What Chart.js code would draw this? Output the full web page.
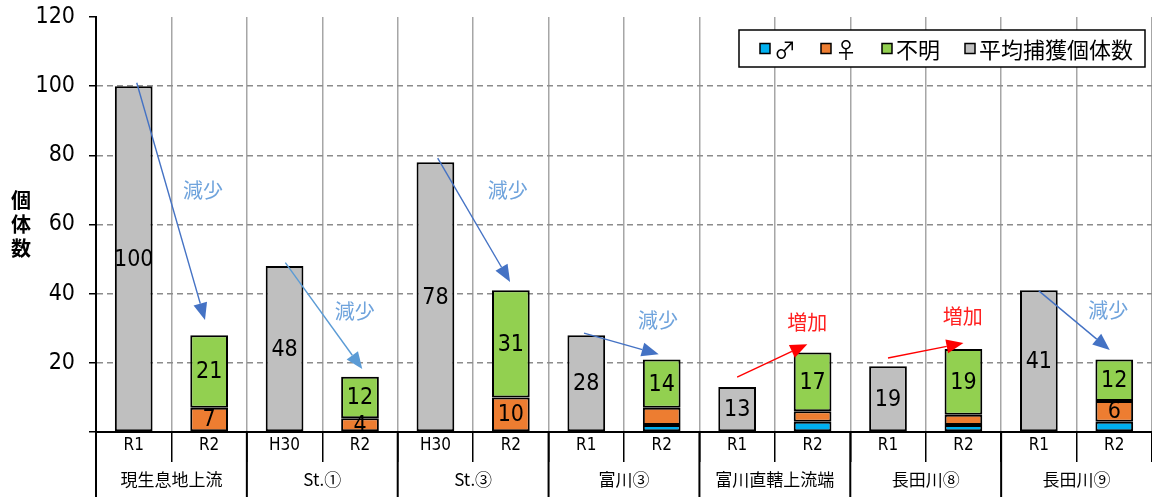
<!DOCTYPE html>
<html>
<head>
<meta charset="utf-8">
<script src="https://cdn.jsdelivr.net/npm/chart.js@4.4.1/dist/chart.umd.min.js"></script>
<style>
  html, body { margin: 0; padding: 0; background: #fff; }
  #wrap { width: 1152px; height: 497px; }
</style>
</head>
<body>
<div id="wrap"><canvas id="chart"></canvas></div>
<script>
const categories = ['R1', 'R2', 'H30', 'R2', 'H30', 'R2', 'R1', 'R2', 'R1', 'R2', 'R1', 'R2', 'R1', 'R2'];
const groups = ['現生息地上流', 'St.①', 'St.③', '富川③', '富川直轄上流端', '長田川⑧', '長田川⑨'];

const maleCounts    = [null, 0, null, 0, null, 0, null, 2, null, 3, null, 2, null, 3];
const femaleCounts  = [null, 7, null, 4, null, 10, null, 5, null, 3, null, 3, null, 6];
const unknownCounts = [null, 21, null, 12, null, 31, null, 14, null, 17, null, 19, null, 12];
const averageCounts = [100, null, 48, null, 78, null, 28, null, 13, null, 19, null, 41, null];

// which ♀ segments carry a value label in the original
const femaleLabelled = [false, true, false, true, false, true, false, false, false, false, false, false, false, true];

const yTicks = [0, 20, 40, 60, 80, 100, 120];

// trend arrows: [category index, value]
const arrowFrom = [[0.04, 101], [2.01, 49], [4.03, 79.2], [5.97, 28.6], [8.0, 15.9], [10.0, 21.4], [12.0, 40.8]];
const arrowTo   = [[0.945, 32.4], [3.03, 18.2], [4.99, 43.4], [6.96, 22.5], [8.93, 25.4], [11.0, 25.7], [12.94, 23.7]];
const arrowKind = ['down', 'down2', 'down', 'down', 'up', 'up', 'down'];
const noteText  = ['減少', '減少', '減少', '減少', '増加', '増加', '減少'];
const notePos   = [[0.92, 70], [2.93, 35], [4.96, 70], [6.95, 32.4], [8.93, 31.8], [10.99, 33.5], [12.92, 35.3]];

const NARROW = '"DejaVu Sans Condensed", "Noto Sans CJK JP", sans-serif';
const CJK = '"Noto Sans CJK JP", sans-serif';

const arrowColors = { down: '#4472C4', down2: '#5B9BD5', up: '#FF0000' };
const noteColors = { '減少': '#6FA3DC', '増加': '#FF2020' };

const labelsPlugin = {
  id: 'barLabels',
  afterDatasetsDraw(chart) {
    const ctx = chart.ctx;
    ctx.save();
    ctx.font = '23px ' + NARROW;
    ctx.fillStyle = '#000';
    ctx.textAlign = 'center';
    ctx.textBaseline = 'middle';
    chart.data.datasets.forEach((ds, i) => {
      const meta = chart.getDatasetMeta(i);
      meta.data.forEach((bar, j) => {
        const v = ds.data[j];
        if (v == null || v === 0 || !ds.showLabel(j)) return;
        ctx.fillText(String(v), bar.x, (bar.y + bar.base) / 2 + 1);
      });
    });
    ctx.restore();
  }
};

const arrowsPlugin = {
  id: 'arrows',
  afterDatasetsDraw(chart) {
    const ctx = chart.ctx;
    const x = chart.scales.x, y = chart.scales.y;
    ctx.save();
    arrowFrom.forEach((from, i) => {
      const to = arrowTo[i];
      const x1 = x.getPixelForValue(from[0]), y1 = y.getPixelForValue(from[1]);
      const x2 = x.getPixelForValue(to[0]), y2 = y.getPixelForValue(to[1]);
      const col = arrowColors[arrowKind[i]];
      const ang = Math.atan2(y2 - y1, x2 - x1);
      const len = 17, half = 7;
      const bx = x2 - len * Math.cos(ang), by = y2 - len * Math.sin(ang);
      ctx.strokeStyle = col;
      ctx.fillStyle = col;
      ctx.lineWidth = 1.4;
      ctx.beginPath();
      ctx.moveTo(x1, y1);
      ctx.lineTo(bx, by);
      ctx.stroke();
      ctx.beginPath();
      ctx.moveTo(x2, y2);
      ctx.lineTo(bx + half * Math.sin(ang), by - half * Math.cos(ang));
      ctx.lineTo(bx - half * Math.sin(ang), by + half * Math.cos(ang));
      ctx.closePath();
      ctx.fill();
    });
    ctx.font = '20px ' + CJK;
    ctx.textAlign = 'center';
    ctx.textBaseline = 'middle';
    notePos.forEach((p, i) => {
      ctx.fillStyle = noteColors[noteText[i]];
      ctx.fillText(noteText[i], x.getPixelForValue(p[0]), y.getPixelForValue(p[1]));
    });
    ctx.restore();
  }
};

const framePlugin = {
  id: 'frame',
  afterDraw(chart) {
    const ctx = chart.ctx;
    const area = chart.chartArea;
    const x = chart.scales.x;
    const h = chart.height;
    ctx.save();
    // group separators below the axis
    ctx.strokeStyle = '#000';
    ctx.lineWidth = 2;
    ctx.beginPath();
    ctx.moveTo(area.left, area.top);
    ctx.lineTo(area.left, h);
    for (let k = 1; k < groups.length; k++) {
      const px = (x.getPixelForValue(2 * k - 1) + x.getPixelForValue(2 * k)) / 2;
      ctx.moveTo(px, area.bottom);
      ctx.lineTo(px, h);
    }
    ctx.stroke();

    // y title, stacked characters
    ctx.fillStyle = '#000';
    ctx.font = 'bold 20px ' + CJK;
    ctx.textAlign = 'center';
    ctx.textBaseline = 'middle';
    const title = '個体数';
    const midY = (area.top + area.bottom) / 2;
    for (let c = 0; c < title.length; c++) {
      ctx.fillText(title[c], 21, midY - 24 + c * 24);
    }

    // legend box
    ctx.font = '22px ' + CJK;
    const items = chart.data.datasets.map(ds => ({ label: ds.label, color: ds.backgroundColor, w: ctx.measureText(ds.label).width }));
    const mark = 10, gap = 4, space = 25, padL = 21, padR = 12;
    let total = padL + padR;
    items.forEach((it, i) => { total += mark + gap + it.w + (i ? space : 0); });
    const right = area.right - 7, top = area.top + 13, boxH = 37;
    const left = right - total;
    ctx.fillStyle = '#fff';
    ctx.fillRect(left, top, total, boxH);
    ctx.strokeStyle = '#000';
    ctx.lineWidth = 1.5;
    ctx.strokeRect(left, top, total, boxH);
    let cx = left + padL;
    const cy = top + boxH / 2;
    ctx.textAlign = 'left';
    items.forEach((it, i) => {
      if (i) cx += space;
      ctx.fillStyle = it.color;
      ctx.fillRect(cx, cy - mark / 2, mark, mark);
      ctx.strokeRect(cx, cy - mark / 2, mark, mark);
      cx += mark + gap;
      ctx.fillStyle = '#000';
      ctx.fillText(it.label, cx, cy + 1);
      cx += it.w;
    });
    ctx.restore();
  }
};

const barStyle = {
  borderColor: '#000',
  borderWidth: c => (c.raw ? 2 : 0),
  borderSkipped: false,
  barPercentage: 0.5,
  categoryPercentage: 1
};

new Chart(document.getElementById('chart'), {
  type: 'bar',
  data: {
    labels: categories,
    datasets: [
      Object.assign({ label: '♂', data: maleCounts, backgroundColor: '#00B0F0', showLabel: () => false }, barStyle),
      Object.assign({ label: '♀', data: femaleCounts, backgroundColor: '#ED7D31', showLabel: j => femaleLabelled[j] }, barStyle),
      Object.assign({ label: '不明', data: unknownCounts, backgroundColor: '#92D050', showLabel: () => true }, barStyle),
      Object.assign({ label: '平均捕獲個体数', data: averageCounts, backgroundColor: '#BFBFBF', showLabel: () => true }, barStyle)
    ]
  },
  options: {
    responsive: true,
    maintainAspectRatio: false,
    animation: false,
    layout: { padding: { top: 17, left: 0, right: 0, bottom: 0 } },
    plugins: { legend: { display: false }, tooltip: { enabled: false } },
    scales: {
      x: {
        stacked: true,
        offset: true,
        grid: { color: '#A6A6A6', lineWidth: 1.5, offset: true, tickColor: '#000', tickLength: 30, tickWidth: 1.5 },
        border: { color: '#000', width: 2 },
        ticks: { color: '#000', font: { family: NARROW, size: 17 }, padding: -27, maxRotation: 0, autoSkip: false },
        afterFit: s => { s.height = 31; }
      },
      x2: {
        type: 'category',
        labels: groups,
        position: 'bottom',
        weight: 1,
        offset: true,
        grid: { display: false, drawTicks: false },
        border: { display: false },
        ticks: { color: '#000', font: { family: CJK, size: 17 }, padding: 6, maxRotation: 0, autoSkip: false },
        afterFit: s => { s.height = 34; }
      },
      y: {
        stacked: true,
        min: yTicks[0],
        max: yTicks[yTicks.length - 1],
        afterBuildTicks: s => { s.ticks = yTicks.map(v => ({ value: v })); },
        grid: {
          color: c => (c.tick && (c.tick.value === 120 || c.tick.value === 0)) ? 'rgba(0,0,0,0)' : '#8C8C8C',
          lineWidth: 1.5, tickColor: '#000', tickLength: 7, tickWidth: 1.5, tickBorderDash: []
        },
        border: { color: '#000', width: 2, dash: [6, 4] },
        ticks: { color: '#000', font: { family: NARROW, size: 23 }, padding: 14, callback: v => v === 0 ? '' : v },
        afterFit: s => { s.width = 96; s.paddingTop = 0; s.paddingBottom = 0; }
      }
    }
  },
  plugins: [labelsPlugin, arrowsPlugin, framePlugin]
});
</script>
</body>
</html>
